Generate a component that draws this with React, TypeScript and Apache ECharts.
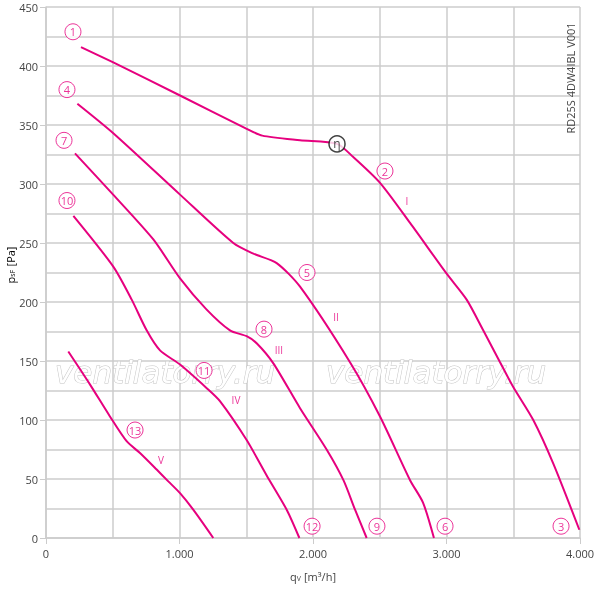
import React, { useEffect, useRef } from "react";
import * as echarts from "echarts";

const MAGENTA = "#E6007E";

const curveI: [number, number][] = [
  [262, 416], [504, 403], [1004, 375], [1500, 347], [1620, 341], [1903, 337], [2180, 334],
  [2300, 323], [2502, 301], [2727, 267], [3001, 224], [3151, 202], [3275, 176],
  [3401, 149], [3500, 128], [3650, 100], [3800, 63], [3995, 7],
];
const curveII: [number, number][] = [
  [235, 368], [504, 343], [1004, 291], [1403, 250], [1553, 241], [1728, 233], [1903, 213],
  [2277, 149], [2502, 103], [2727, 49], [2824, 30], [2906, 0],
];
const curveIII: [number, number][] = [
  [217, 326], [503, 291], [804, 253], [1004, 220], [1200, 194], [1378, 176],
  [1503, 171], [1578, 165], [1703, 148], [1903, 110], [2102, 75], [2228, 49], [2315, 24], [2402, 0],
];
const curveIV: [number, number][] = [
  [205, 273], [504, 230], [642, 202], [754, 176], [854, 159], [1004, 147], [1204, 127],
  [1303, 116], [1503, 83], [1653, 53], [1803, 24], [1898, 0],
];
const curveV: [number, number][] = [
  [167, 158], [330, 130], [479, 103], [604, 82], [704, 72], [829, 58], [916, 48],
  [1004, 38], [1103, 24], [1253, 0],
];

const circledLabels: [number, number, string][] = [
  [202, 429, "1"], [157, 380, "4"], [135, 337, "7"], [157, 286, "10"],
  [2539, 311, "2"], [1955, 225, "5"], [1633, 177, "8"], [1184, 142, "11"], [667, 91.5, "13"],
  [1993, 10, "12"], [2479, 10, "9"], [2989, 10, "6"], [3858, 10, "3"],
];
const etaLabel: [number, number, string][] = [[2180, 334, "η"]];
const romanLabels: [number, number, string][] = [
  [2704, 286, "I"], [2172, 187, "II"], [1745, 159, "III"], [1423, 117, "IV"], [861, 66, "V"],
];

const FONT = "'Open Sans', 'Noto Sans', sans-serif";

export default function App() {
  const ref = useRef<HTMLDivElement>(null);
  useEffect(() => {
    if (!ref.current) return;
    const chart = echarts.init(ref.current, null, { renderer: "svg" });
    const curve = (data: [number, number][]) => ({
      type: "line",
      data,
      smooth: 0.25,
      symbol: "none",
      z: 3,
      lineStyle: { color: MAGENTA, width: 2 },
    });
    const fmt = (v: number) => (v >= 1000 ? `${Math.floor(v / 1000)}.${String(v % 1000).padStart(3, "0")}` : `${v}`);
    const watermark = (x: number) => ({
      type: "text",
      x,
      y: 372,
      z: 1,
      style: {
        text: "ventilatorry.ru",
        font: "italic 31px 'DejaVu Sans', sans-serif",
        fill: "#fff",
        stroke: "#c4c4c4",
        lineWidth: 1,
        verticalAlign: "middle",
      },
    });
    const nameRich = {
      a: { fontSize: 11, color: "#444", fontFamily: FONT },
      s: { fontSize: 7, color: "#444", fontFamily: FONT, padding: [4, 0, 0, 0] },
    };
    chart.setOption({
      animation: false,
      textStyle: { fontFamily: FONT },
      grid: { left: 46, right: 20, top: 7, bottom: 51, containLabel: false, outerBoundsMode: "none" },
      xAxis: {
        type: "value",
        min: 0,
        max: 4000,
        interval: 1000,
        name: "{a|q}{s|V} {a|[m³/h]}",
        nameLocation: "middle",
        nameGap: 32,
        nameTextStyle: { rich: nameRich },
        axisLine: { show: true, lineStyle: { color: "#ccc", width: 1.5 } },
        axisTick: { show: true, length: 6, lineStyle: { color: "#ccc" } },
        axisLabel: { color: "#444", fontSize: 11, margin: 10, formatter: fmt, fontFamily: FONT },
        splitLine: { show: true, lineStyle: { color: "#ccc", width: 1.5 } },
        minorTick: { show: false, splitNumber: 2 },
        minorSplitLine: { show: true, lineStyle: { color: "#ccc", width: 1.5 } },
      },
      yAxis: {
        type: "value",
        min: 0,
        max: 450,
        interval: 50,
        axisLine: { show: true, lineStyle: { color: "#ccc", width: 1.5 } },
        axisTick: { show: true, length: 6, lineStyle: { color: "#ccc" } },
        axisLabel: { color: "#444", fontSize: 11, margin: 8, fontFamily: FONT },
        splitLine: { show: true, lineStyle: { color: "#ccc", width: 1.5 } },
        minorTick: { show: false, splitNumber: 2 },
        minorSplitLine: { show: true, lineStyle: { color: "#ccc", width: 1.5 } },
      },
      graphic: [
        watermark(55),
        watermark(326),
        {
          type: "text",
          x: 10,
          y: 265,
          rotation: Math.PI / 2,
          z: 5,
          style: {
            text: "{a|p}{s|sF} {a|[Pa]}",
            rich: nameRich,
            align: "center",
            verticalAlign: "middle",
          },
        },
        {
          type: "text",
          x: 570,
          y: 78,
          rotation: Math.PI / 2,
          z: 5,
          style: {
            text: "RD25S 4DW4IBL V001",
            font: `11px ${FONT}`,
            fill: "#444",
            align: "center",
            verticalAlign: "middle",
          },
        },
      ],
      series: [
        curve(curveI),
        curve(curveII),
        curve(curveIII),
        curve(curveIV),
        curve(curveV),
        {
          type: "scatter",
          data: circledLabels.map((d) => [d[0], d[1], d[2]]),
          symbol: "circle",
          symbolSize: 16,
          z: 5,
          itemStyle: { color: "#fff", borderColor: MAGENTA, borderWidth: 1 },
          label: {
            show: true,
            position: "inside",
            color: MAGENTA,
            fontSize: 11,
            fontFamily: FONT,
            formatter: (p: any) => p.value[2],
          },
        },
        {
          type: "scatter",
          data: etaLabel.map((d) => [d[0], d[1], d[2]]),
          symbol: "circle",
          symbolSize: 16,
          z: 6,
          itemStyle: { color: "#fff", borderColor: "#111", borderWidth: 1.5 },
          label: {
            show: true,
            position: "inside",
            color: "#111",
            fontSize: 12,
            fontFamily: FONT,
            formatter: (p: any) => p.value[2],
          },
        },
        {
          type: "scatter",
          data: romanLabels.map((d) => [d[0], d[1], d[2]]),
          symbolSize: 0,
          z: 5,
          label: {
            show: true,
            position: "inside",
            color: MAGENTA,
            fontSize: 10,
            fontFamily: FONT,
            formatter: (p: any) => p.value[2],
          },
        },
      ],
    });
    return () => chart.dispose();
  }, []);
  return <div ref={ref} style={{ position: "fixed", left: 0, top: 0, width: 600, height: 589 }} />;
}
